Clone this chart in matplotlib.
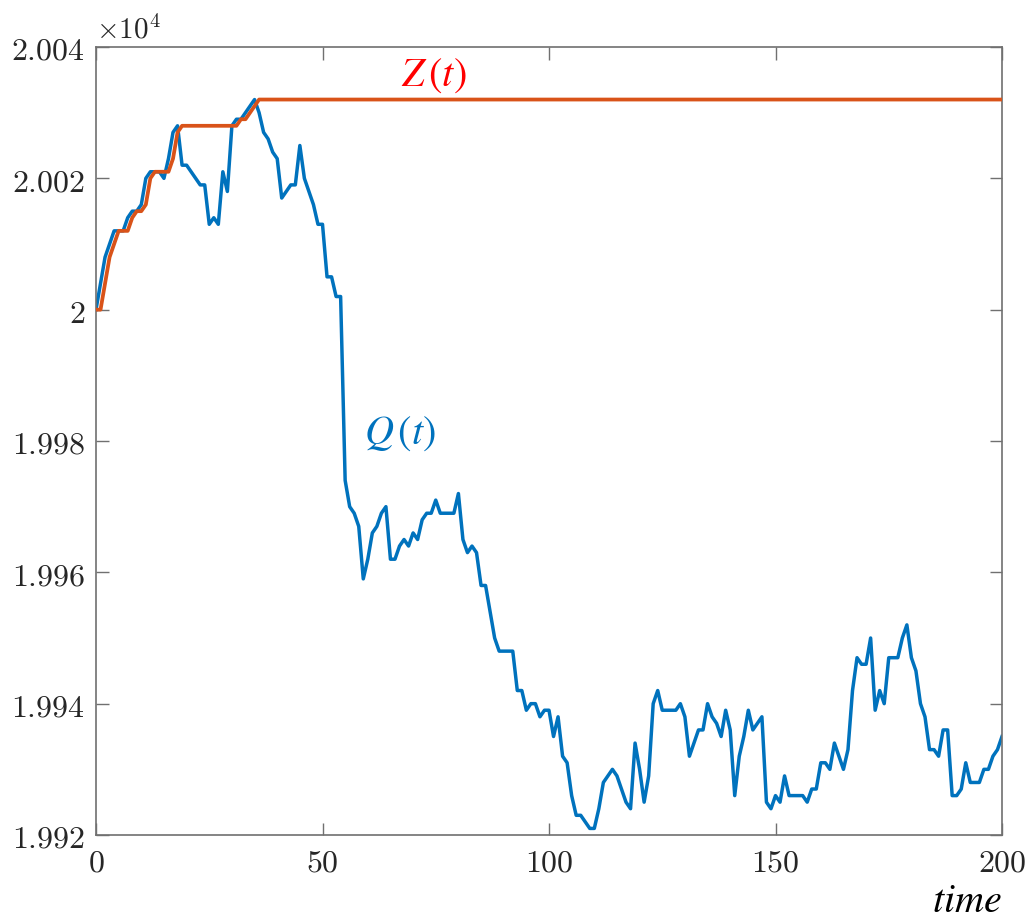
import matplotlib
matplotlib.use("Agg")
import matplotlib.pyplot as plt

# Q(t), one value per time step t = 0..200
q_values = [
    20000, 20004, 20008, 20010, 20012, 20012, 20012, 20014, 20015, 20015,
    20016, 20020, 20021, 20021, 20021, 20020, 20023, 20027, 20028, 20022,
    20022, 20021, 20020, 20019, 20019, 20013, 20014, 20013, 20021, 20018,
    20028, 20029, 20029, 20030, 20031, 20032, 20030, 20027, 20026, 20024,
    20023, 20017, 20018, 20019, 20019, 20025, 20020, 20018, 20016, 20013,
    20013, 20005, 20005, 20002, 20002, 19974, 19970, 19969, 19967, 19959,
    19962, 19966, 19967, 19969, 19970, 19962, 19962, 19964, 19965, 19964,
    19966, 19965, 19968, 19969, 19969, 19971, 19969, 19969, 19969, 19969,
    19972, 19965, 19963, 19964, 19963, 19958, 19958, 19954, 19950, 19948,
    19948, 19948, 19948, 19942, 19942, 19939, 19940, 19940, 19938, 19939,
    19939, 19935, 19938, 19932, 19931, 19926, 19923, 19923, 19922, 19921,
    19921, 19924, 19928, 19929, 19930, 19929, 19927, 19925, 19924, 19934,
    19930, 19925, 19929, 19940, 19942, 19939, 19939, 19939, 19939, 19940,
    19938, 19932, 19934, 19936, 19936, 19940, 19938, 19937, 19935, 19939,
    19936, 19926, 19932, 19935, 19939, 19936, 19937, 19938, 19925, 19924,
    19926, 19925, 19929, 19926, 19926, 19926, 19926, 19925, 19927, 19927,
    19931, 19931, 19930, 19934, 19932, 19930, 19933, 19942, 19947, 19946,
    19946, 19950, 19939, 19942, 19940, 19947, 19947, 19947, 19950, 19952,
    19947, 19945, 19940, 19938, 19933, 19933, 19932, 19936, 19936, 19926,
    19926, 19927, 19931, 19928, 19928, 19928, 19930, 19930, 19932, 19933,
    19935,
]
q_time = list(range(len(q_values)))

# Z(t): rises until t = 36, then stays flat to the end
z_time = list(range(37)) + [200]
z_values = [
    20000, 20000, 20004, 20008, 20010, 20012, 20012, 20012, 20014, 20015,
    20015, 20016, 20020, 20021, 20021, 20021, 20021, 20023, 20027, 20028,
    20028, 20028, 20028, 20028, 20028, 20028, 20028, 20028, 20028, 20028,
    20028, 20028, 20029, 20029, 20030, 20031, 20032, 20032,
]

x_ticks = [0, 50, 100, 150, 200]
y_ticks = [1.992, 1.994, 1.996, 1.998, 2.0, 2.002, 2.004]
y_tick_labels = ["1.992", "1.994", "1.996", "1.998", "2", "2.002", "2.004"]

plt.rcParams["mathtext.fontset"] = "cm"

blue = "#0072BD"
orange = "#D95319"
axis_col = "#707070"
text_col = "#262626"

fig = plt.figure(figsize=(10.29, 9.2), dpi=100)
ax = fig.add_axes([96 / 1029, 84 / 920, 906 / 1029, 788 / 920])

# plot in units of 1e4 so the ticks read like the MATLAB axis
ax.plot(q_time, [v / 1e4 for v in q_values], color=blue, lw=2.5, zorder=2)
ax.plot(z_time, [v / 1e4 for v in z_values], color=orange, lw=2.7, zorder=3)

ax.set_xlim(0, 200)
ax.set_ylim(1.992, 2.004)
ax.set_xticks(x_ticks)
ax.set_xticklabels(["$%d$" % t for t in x_ticks])
ax.set_yticks(y_ticks)
ax.set_yticklabels(["$%s$" % s for s in y_tick_labels])

for side in ["left", "right", "top", "bottom"]:
    ax.spines[side].set_color(axis_col)
    ax.spines[side].set_linewidth(1.2)
ax.tick_params(direction="in", length=9, width=1.0, color=axis_col,
               labelsize=23, labelcolor=text_col, top=True, right=True, pad=8)

ax.text(0.0, 1.005, r"$\times10^{4}$", transform=ax.transAxes, fontsize=21,
        color=text_col, ha="left", va="bottom")

ax.text(74.6, 2.00359, r"$Z\,(t)$", color="#FF0000", fontsize=29,
        math_fontfamily="stix", ha="center", va="center")
ax.text(67, 1.99813, r"$Q\,(t)$", color=blue, fontsize=29,
        math_fontfamily="stix", ha="center", va="center")
ax.text(1.0, -0.083, r"$time$", transform=ax.transAxes, color="black",
        fontsize=29, math_fontfamily="stix", ha="right", va="center")

fig.savefig("out.png", dpi=100)
